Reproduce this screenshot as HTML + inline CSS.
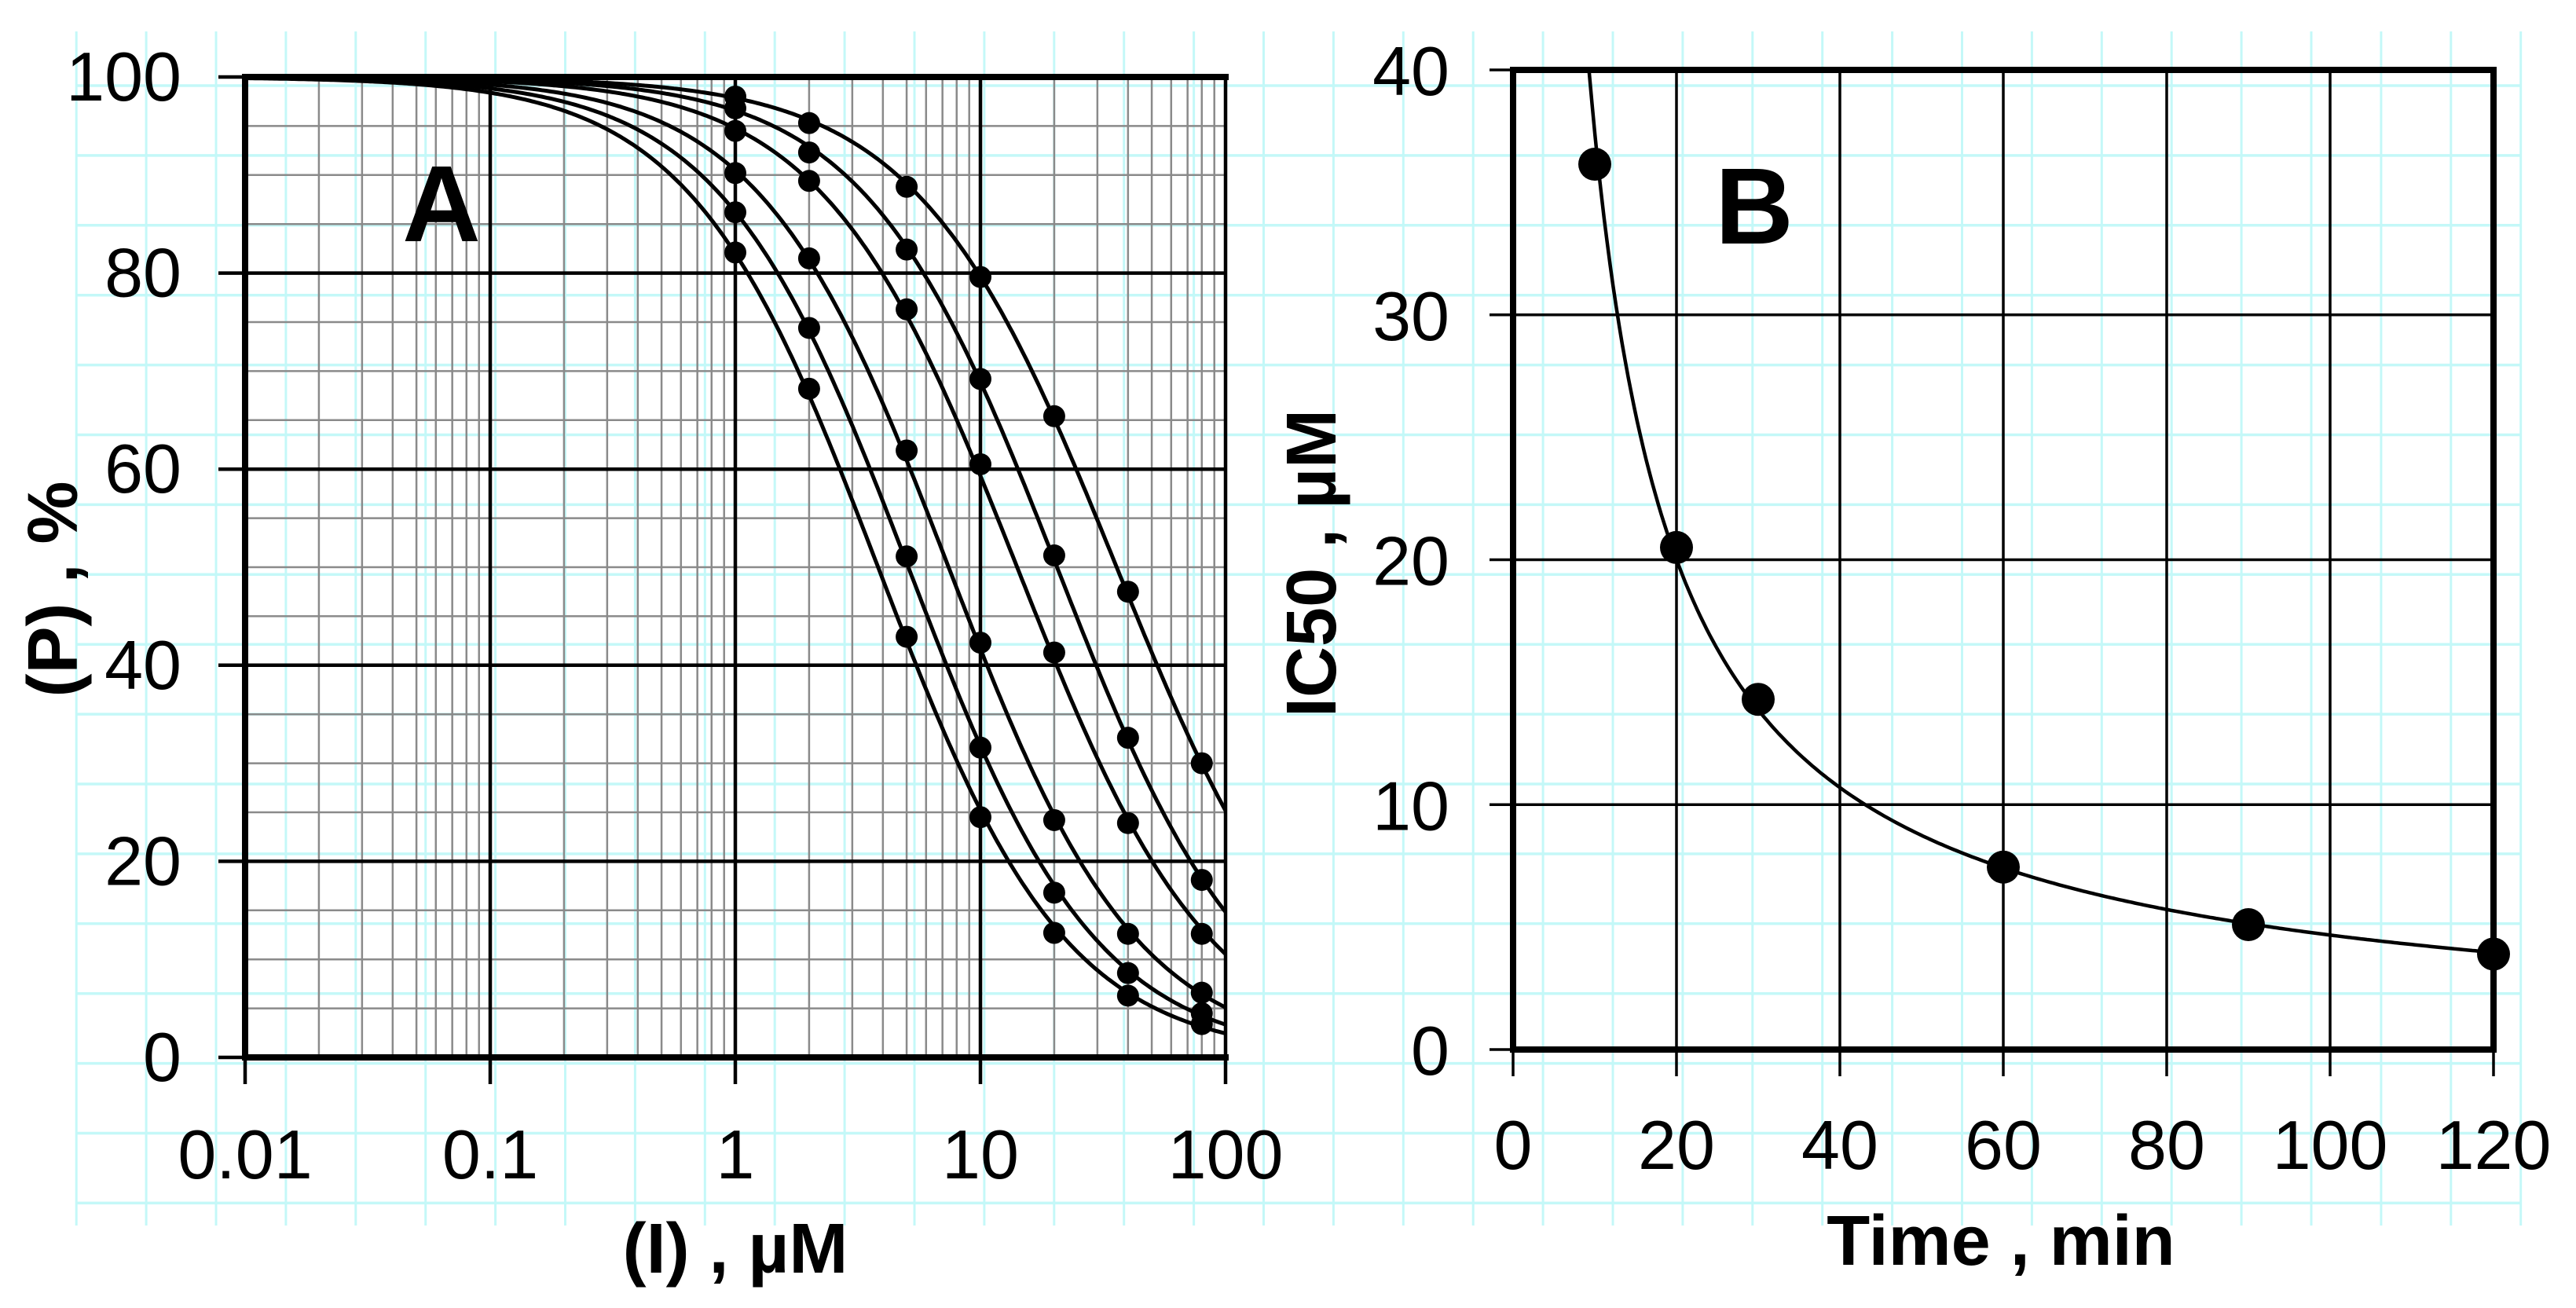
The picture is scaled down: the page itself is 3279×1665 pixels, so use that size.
<!DOCTYPE html>
<html><head><meta charset="utf-8"><style>
html,body{margin:0;padding:0;background:#fff;}
svg{display:block;font-family:"Liberation Sans",Arial,sans-serif;}
</style></head><body>
<svg id="fig" width="3279" height="1665" viewBox="0 0 3279 1665" xmlns="http://www.w3.org/2000/svg">
<g id="paper"></g>
<g id="panelA"></g>
<g id="panelB"></g>
</svg>
<script>
// ---------- Panel A data ----------
const concA = [1, 2, 5, 10, 20, 40, 80];
const seriesA1 = [98.0, 95.3, 88.8, 79.6, 65.4, 47.5, 30.0];
const seriesA2 = [96.8, 92.3, 82.4, 69.2, 51.2, 32.6, 18.1];
const seriesA3 = [94.5, 89.4, 76.3, 60.5, 41.3, 23.9, 12.6];
const seriesA4 = [90.2, 81.5, 61.9, 42.3, 24.2, 12.6, 6.6];
const seriesA5 = [86.2, 74.4, 51.1, 31.6, 16.8, 8.6, 4.5];
const seriesA6 = [82.1, 68.2, 42.9, 24.5, 12.7, 6.3, 3.4];
const xTicksA = [0.01, 0.1, 1, 10, 100];
const xTickLabelsA = ["0.01", "0.1", "1", "10", "100"];
const yTicksA = [0, 20, 40, 60, 80, 100];
// ---------- Panel B data ----------
const timeB = [10, 20, 30, 60, 90, 120];
const ic50B = [36.15, 20.5, 14.3, 7.45, 5.1, 3.9];
const xTicksB = [0, 20, 40, 60, 80, 100, 120];
const yTicksB = [0, 10, 20, 30, 40];

const NS = "http://www.w3.org/2000/svg";
function mk(parent, tag, attrs, text) {
  const el = document.createElementNS(NS, tag);
  for (const k in attrs) el.setAttribute(k, attrs[k]);
  if (text !== undefined) el.textContent = text;
  parent.appendChild(el);
  return el;
}

// ---------- graph paper ----------
const paper = document.getElementById('paper');
for (let k = 0; k <= 35; k++) {
  const x = 97.2 + 88.9 * k;
  const l = mk(paper, 'line', {x1: x, x2: x, y1: 40, y2: 1560, stroke: '#c4f8f8', 'stroke-width': 3});
  
  
}
for (let k = 0; k <= 16; k++) {
  const y = 109 + 88.9 * k;
  const l = mk(paper, 'line', {x1: 97, x2: 3208, y1: y, y2: y, stroke: '#c4f8f8', 'stroke-width': 3.5});
  
  
}

// ---------- Panel A ----------
const A = document.getElementById('panelA');
const aL = 312, aR = 1560, aT = 98, aB = 1346;
const xA = v => aL + (Math.log10(v) + 2) / 4 * (aR - aL);
const yA = v => aB - v / 100 * (aB - aT);

for (let d = -2; d < 2; d++) {
  for (let m = 2; m <= 9; m++) {
    const x = xA(m * Math.pow(10, d));
    const l = mk(A, 'line', {x1: x, x2: x, y1: aT, y2: aB, stroke: '#8a8a8a', 'stroke-width': 2.5});
    
    
  }
}
for (let v = 5; v < 100; v += 5) {
  if (v % 20 === 0) continue;
  const l = mk(A, 'line', {x1: aL, x2: aR, y1: yA(v), y2: yA(v), stroke: '#8a8a8a', 'stroke-width': 2.5});
  
  
}
xTicksA.forEach((t, i) => {
  const x = xA(t);
  const l = mk(A, 'line', {x1: x, x2: x, y1: aT, y2: aB + 34, stroke: '#000', 'stroke-width': 4.5});
  
  
  const tx = mk(A, 'text', {x: x, y: 1500, 'font-size': 88, 'text-anchor': 'middle'}, xTickLabelsA[i]);
  
  
});
yTicksA.forEach(t => {
  const y = yA(t);
  const l = mk(A, 'line', {x1: aL - 34, x2: aR, y1: y, y2: y, stroke: '#000', 'stroke-width': 4.5});
  
  
  const tx = mk(A, 'text', {x: 231, y: y + 30, 'font-size': 88, 'text-anchor': 'end'}, String(t));
  
  
});
[[aL, aT, aL, aB], [aL, aB, aR, aB], [aL, aT, aR, aT]].forEach(s => {
  const l = mk(A, 'line', {x1: s[0], y1: s[1], x2: s[2], y2: s[3], stroke: '#000', 'stroke-width': 8, 'stroke-linecap': 'square'});
  
  
});

const seriesListA = [seriesA1, seriesA2, seriesA3, seriesA4, seriesA5, seriesA6];
function hillFit(xs, ys) {
  let n = 0, sx = 0, sy = 0, sxx = 0, sxy = 0;
  xs.forEach((x, i) => {
    const p = Math.min(Math.max(ys[i], 0.5), 99.5);
    const lx = Math.log(x), ly = Math.log(100 / p - 1);
    n++; sx += lx; sy += ly; sxx += lx * lx; sxy += lx * ly;
  });
  const h = (n * sxy - sx * sy) / (n * sxx - sx * sx);
  const c = (sy - h * sx) / n;
  return {h: h, ic: Math.exp(-c / h)};
}
seriesListA.forEach((ser, si) => {
  const f = hillFit(concA, ser);
  let d = '';
  for (let i = 0; i <= 400; i++) {
    const lx = -2 + 4 * i / 400;
    const x = Math.pow(10, lx);
    const p = 100 / (1 + Math.pow(x / f.ic, f.h));
    d += (i ? 'L' : 'M') + xA(x).toFixed(1) + ',' + yA(p).toFixed(1);
  }
  const path = mk(A, 'path', {d: d, fill: 'none', stroke: '#000', 'stroke-width': 5});
  
  
  ser.forEach((v, i) => {
    const c = mk(A, 'circle', {cx: xA(concA[i]), cy: yA(v), r: 14, fill: '#000'});
    
    
  });
});
const labA = mk(A, 'text', {x: 562, y: 307, 'font-size': 138, 'font-weight': 'bold', 'text-anchor': 'middle'}, 'A');


const xtA = mk(A, 'text', {x: 936, y: 1620, 'font-size': 90, 'font-weight': 'bold', 'text-anchor': 'middle'}, '(I) , µM');


const ytA = mk(A, 'text', {x: 0, y: 0, 'font-size': 90, 'font-weight': 'bold', 'text-anchor': 'middle', transform: 'translate(98,750) rotate(-90)'}, '(P) , %');



// ---------- Panel B ----------
const B = document.getElementById('panelB');
const bL = 1926, bR = 3174, bT = 89, bB = 1336;
const xB = v => bL + v / 120 * (bR - bL);
const yB = v => bB - v / 40 * (bB - bT);
xTicksB.forEach(t => {
  const x = xB(t);
  const l = mk(B, 'line', {x1: x, x2: x, y1: bT, y2: bB + 34, stroke: '#000', 'stroke-width': 3.5});
  
  
  const tx = mk(B, 'text', {x: x, y: 1488, 'font-size': 88, 'text-anchor': 'middle'}, String(t));
  
  
});
yTicksB.forEach(t => {
  const y = yB(t);
  const l = mk(B, 'line', {x1: bL - 30, x2: bR, y1: y, y2: y, stroke: '#000', 'stroke-width': 3.5});
  
  
  const tx = mk(B, 'text', {x: 1845, y: y + 32, 'font-size': 88, 'text-anchor': 'end'}, String(t));
  
  
});
const frameB = mk(B, 'rect', {x: bL, y: bT, width: bR - bL, height: bB - bT, fill: 'none', stroke: '#000', 'stroke-width': 8});



(function () {
  let n = 0, sx = 0, sy = 0, sxx = 0, sxy = 0;
  timeB.forEach((t, i) => {
    const lx = Math.log(t), ly = Math.log(ic50B[i]);
    n++; sx += lx; sy += ly; sxx += lx * lx; sxy += lx * ly;
  });
  const b = (n * sxy - sx * sy) / (n * sxx - sx * sx);
  const a = Math.exp((sy - b * sx) / n);
  const tStart = Math.pow(40 / a, 1 / b);
  let d = '';
  for (let i = 0; i <= 300; i++) {
    const t = tStart + (120 - tStart) * i / 300;
    d += (i ? 'L' : 'M') + xB(t).toFixed(1) + ',' + yB(a * Math.pow(t, b)).toFixed(1);
  }
  const p = mk(B, 'path', {d: d, fill: 'none', stroke: '#000', 'stroke-width': 4.5});
  
  
})();
timeB.forEach((t, i) => {
  const c = mk(B, 'circle', {cx: xB(t), cy: yB(ic50B[i]), r: 21, fill: '#000'});
  
  
});
const labB = mk(B, 'text', {x: 2233, y: 310, 'font-size': 138, 'font-weight': 'bold', 'text-anchor': 'middle'}, 'B');


const xtB = mk(B, 'text', {x: 2547, y: 1610, 'font-size': 90, 'font-weight': 'bold', 'text-anchor': 'middle'}, 'Time , min');


const ytB = mk(B, 'text', {x: 0, y: 0, 'font-size': 90, 'font-weight': 'bold', 'text-anchor': 'middle', transform: 'translate(1700,717) rotate(-90)'}, 'IC50 , µM');


</script>
</body></html>
